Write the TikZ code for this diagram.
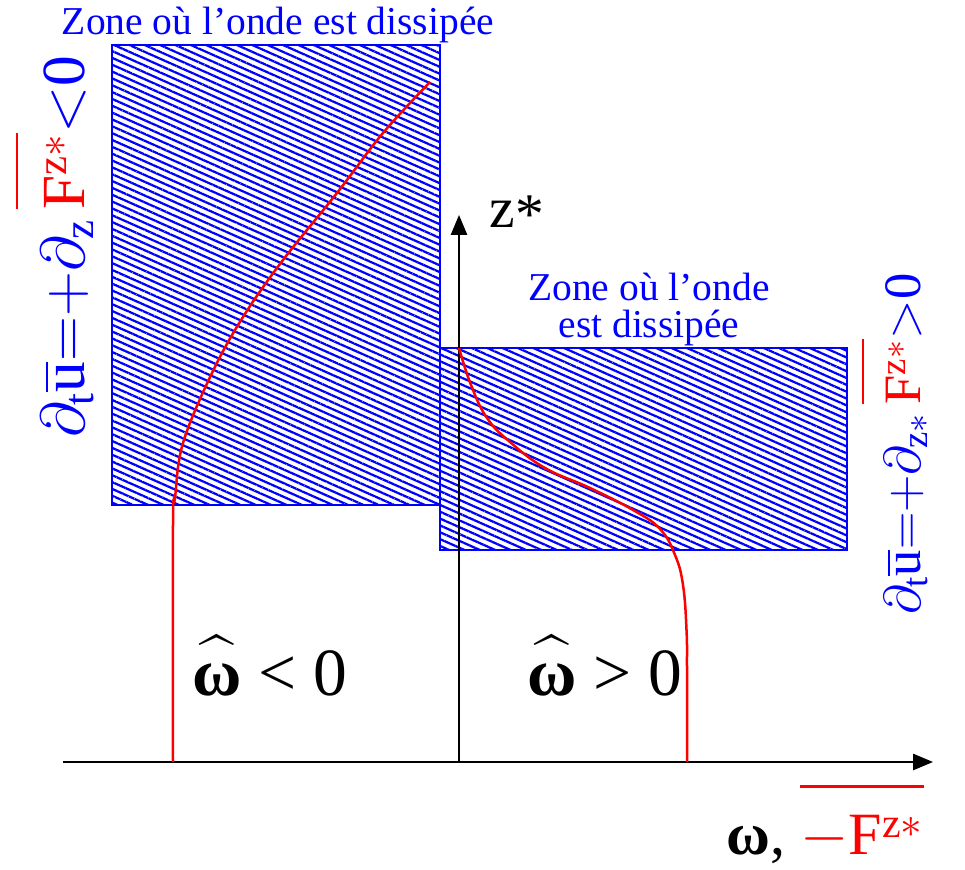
\documentclass[tikz,border=0pt]{standalone}
\usepackage{amsmath}
\usepackage{fontspec}
\setmainfont{Liberation Serif}
\usetikzlibrary{arrows.meta,patterns.meta}
\newcommand{\ubar}{\overline{\mathrm{u}}}
\newcommand{\Fzbar}[1]{\overline{\rule{0pt}{#1}\mathrm{F}^{\mathrm{z}*}}}
\newcommand{\omhat}{\widehat{\rule{0pt}{0.62em}\text{\bfseries ω}}}

\begin{document}
\begin{tikzpicture}[x=0.4pt,y=0.4pt,
  zone/.style={draw=blue,line width=0.8pt,pattern={Lines[angle=-24,distance=2.5pt,line width=0.9pt]},pattern color=blue},
  axis/.style={line width=0.8pt,-{Triangle[length=8pt,width=6.5pt]}},
  profil/.style={red,line width=1pt},
  lbl/.style={inner sep=0pt}]
 \path[fill=white,use as bounding box] (0,0) rectangle (965,870);
 \draw[zone] (112,365) rectangle (440,825);
 \draw[zone] (440,320) rectangle (847,522);
 \coordinate (orig) at (459,108);
 \coordinate (xstart) at (63,108);
 \coordinate (xend) at (933,108);
 \coordinate (zend) at (459,655);
 \draw[axis] (xstart) -- (xend);
 \draw[axis] (orig) -- (zend);
 \draw[profil] plot[smooth,tension=0.6] coordinates {(173,108) (173,345) (175,372) (183,427) (212,497) (243,553) (283,610) (337,677) (383,737) (430,788)};
 \draw[profil] plot[smooth,tension=0.7] coordinates {(459,522) (471,485) (487,452) (510,428) (545,402) (590,382) (633,360) (660,341) (675,315) (683,285) (686.5,240) (687,200) (687,108)};
 \node[lbl,anchor=base west,font=\fontsize{23}{23}\selectfont] (zlab) at (489,642) {z\raisebox{-0.1em}{*}};
 \node[lbl,anchor=base,text=blue,font=\fontsize{15.8}{15}\selectfont] (zonehaut) at (278,835) {Zone où l’onde est dissipée};
 \node[lbl,anchor=south,align=center,text=blue,font=\fontsize{15.8}{14.8}\selectfont] (zonebas) at (649,524) {Zone où l’onde\\est dissipée};
 \node[lbl,anchor=base west,font=\fontsize{27}{27}\selectfont] (omneg) at (192,174) {$\omhat$ < 0};
 \node[lbl,anchor=base west,font=\fontsize{27}{27}\selectfont] (ompos) at (527,174) {$\omhat$ > 0};
 \node[lbl,anchor=base west,font=\fontsize{24}{24}\selectfont] (xlab) at (726,15) {\textbf{ω}, \textcolor{red}{$\overline{\rule{0pt}{1.0em}{-}\mathrm{F}^{\mathrm{z}*}}$}};
 \node[lbl,rotate=90,anchor=base west,font=\fontsize{24.5}{24.5}\selectfont] (accneg) at (84,432)
   {\textcolor{blue}{$\partial_{\mathrm{t}}\ubar{=}{+}\partial_{\mathrm{z}}$}\,\textcolor{red}{$\Fzbar{0.95em}$}\textcolor{blue}{${<}$0}};
 \node[lbl,rotate=90,anchor=base west,font=\fontsize{21}{21}\selectfont] (accpos) at (920,255)
   {\textcolor{blue}{$\partial_{\mathrm{t}}\ubar{=}{+}\partial_{\mathrm{z}*}$}\,\textcolor{red}{$\Fzbar{0.95em}$}\textcolor{blue}{${>}$0}};
\end{tikzpicture}
\end{document}
